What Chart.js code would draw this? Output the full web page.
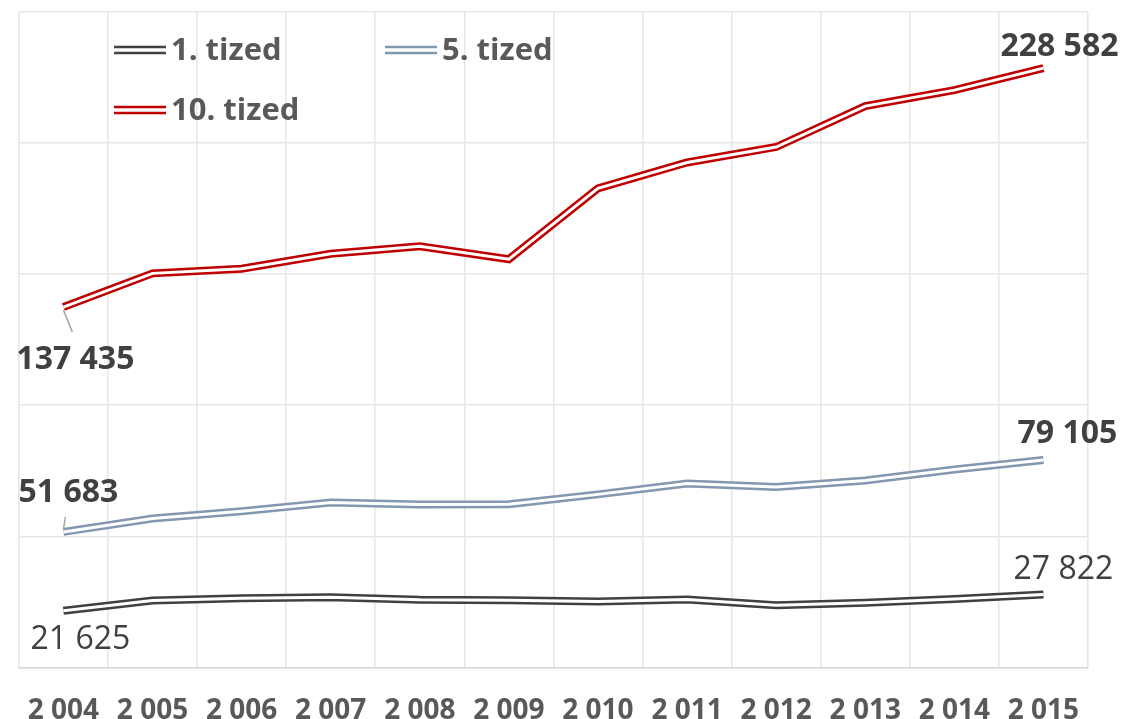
<!DOCTYPE html>
<html>
<head>
<meta charset="utf-8">
<script src="https://cdn.jsdelivr.net/npm/chart.js@4.4.0/dist/chart.umd.min.js"></script>
<style>
  html, body { margin: 0; padding: 0; background: #fff; overflow: hidden; }
  #wrap { width: 1126px; height: 755px; position: relative; }
</style>
</head>
<body>
<div id="wrap"><canvas id="chart"></canvas></div>
<script>
const years = ['2 004', '2 005', '2 006', '2 007', '2 008', '2 009', '2 010', '2 011', '2 012', '2 013', '2 014', '2 015'];
const tized1 = [21625, 25500, 26400, 26800, 25800, 25600, 25100, 25900, 23700, 24700, 26100, 27822];
const tized5 = [51683, 56800, 59600, 62900, 62100, 62200, 66000, 70100, 68800, 71300, 75500, 79105];
const tized10 = [137435, 150300, 152100, 157800, 160600, 155700, 182700, 192600, 198500, 214100, 220200, 228582];
const seriesNames = ['1. tized', '5. tized', '10. tized'];
const seriesColors = ['#404040', '#8497b0', '#c00000'];
const yTicks = [0, 50000, 100000, 150000, 200000, 250000];

const FONT = "'Open Sans', 'DejaVu Sans', sans-serif";
const fmt = v => String(v).replace(/\B(?=(\d{3})+(?!\d))/g, ' ');

// excel style double line: thick stroke, then a white core on top
const doubleLine = {
  id: 'doubleLine',
  afterDatasetDraw(chart, args) {
    const pts = args.meta.data;
    const ctx = chart.ctx;
    ctx.save();
    ctx.beginPath();
    pts.forEach((p, i) => (i ? ctx.lineTo(p.x, p.y) : ctx.moveTo(p.x, p.y)));
    ctx.strokeStyle = '#fff';
    ctx.lineWidth = 3;
    ctx.lineJoin = 'miter';
    ctx.stroke();
    ctx.restore();
  }
};

// first / last value labels
const endLabels = {
  id: 'endLabels',
  afterDatasetsDraw(chart, args, opts) {
    const ctx = chart.ctx;
    ctx.save();
    opts.items.forEach(it => {
      const p = chart.getDatasetMeta(it.ds).data[it.idx];
      const v = chart.data.datasets[it.ds].data[it.idx];
      if (it.leader) {
        ctx.beginPath();
        ctx.moveTo(p.x + it.leader[0], p.y + it.leader[1]);
        ctx.lineTo(p.x + it.leader[2], p.y + it.leader[3]);
        ctx.strokeStyle = '#a6a6a6';
        ctx.lineWidth = 1.5;
        ctx.stroke();
      }
      ctx.font = (it.bold ? 'bold ' : '') + '32px ' + FONT;
      ctx.fillStyle = '#404040';
      ctx.textAlign = 'center';
      ctx.textBaseline = 'middle';
      ctx.fillText(fmt(v), p.x + it.dx, p.y + it.dy);
    });
    ctx.restore();
  }
};

// legend drawn inside the plot, two rows
const insideLegend = {
  id: 'insideLegend',
  afterDraw(chart, args, opts) {
    const ctx = chart.ctx;
    ctx.save();
    opts.items.forEach(it => {
      const ds = chart.data.datasets[it.ds];
      ctx.strokeStyle = ds.borderColor;
      ctx.lineWidth = 2.5;
      [-3, 3].forEach(off => {
        ctx.beginPath();
        ctx.moveTo(it.x, it.y + off);
        ctx.lineTo(it.x + 52, it.y + off);
        ctx.stroke();
      });
      ctx.font = 'bold 31px ' + FONT;
      ctx.fillStyle = '#595959';
      ctx.textAlign = 'left';
      ctx.textBaseline = 'middle';
      ctx.fillText(ds.label, it.x + 57, it.y + 1);
    });
    ctx.restore();
  }
};

const ctx = document.getElementById('chart').getContext('2d');
new Chart(ctx, {
  type: 'line',
  data: {
    labels: years,
    datasets: [tized1, tized5, tized10].map((d, i) => ({
      label: seriesNames[i],
      data: d,
      borderColor: seriesColors[i],
      backgroundColor: seriesColors[i],
      borderWidth: 8,
      pointRadius: 0,
      tension: 0,
      fill: false,
    })),
  },
  options: {
    responsive: true,
    maintainAspectRatio: false,
    animation: false,
    layout: { padding: { left: 18, right: 38, top: 12, bottom: 0 } },
    plugins: {
      legend: { display: false },
      tooltip: { enabled: false },
      endLabels: {
        items: [
          { ds: 2, idx: 0, dx: 12, dy: 53, bold: true, leader: [0, 3, 9, 25] },
          { ds: 2, idx: 11, dx: 16, dy: -21, bold: true },
          { ds: 1, idx: 0, dx: 5, dy: -39, bold: true, leader: [0, -2, 2, -15] },
          { ds: 1, idx: 11, dx: 24, dy: -26, bold: true },
          { ds: 0, idx: 0, dx: 17, dy: 29 },
          { ds: 0, idx: 11, dx: 20, dy: -25 },
        ],
      },
      insideLegend: {
        items: [
          { ds: 0, x: 114, y: 50 },
          { ds: 1, x: 385, y: 50 },
          { ds: 2, x: 114, y: 110 },
        ],
      },
    },
    scales: {
      x: {
        offset: true,
        grid: { offset: true, color: '#e6e6e6', lineWidth: 1.5, drawTicks: false },
        border: { color: '#d9d9d9', width: 1.5 },
        ticks: {
          padding: 27,
          color: '#595959',
          maxRotation: 0,
          autoSkip: false,
          font: { family: FONT, size: 28, weight: 'bold' },
        },
      },
      y: {
        min: yTicks[0],
        max: yTicks[yTicks.length - 1],
        afterBuildTicks: axis => { axis.ticks = yTicks.map(v => ({ value: v })); },
        ticks: { display: false },
        grid: { color: '#e6e6e6', lineWidth: 1.5, drawTicks: false },
        border: { display: false },
      },
    },
  },
  plugins: [doubleLine, endLabels, insideLegend],
});
</script>
</body>
</html>
